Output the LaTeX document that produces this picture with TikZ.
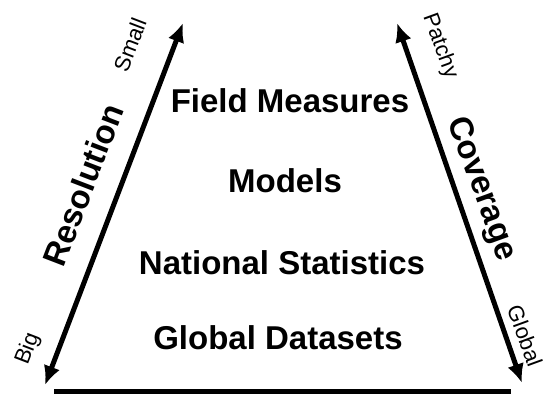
\documentclass[tikz,border=0pt]{standalone}
\usepackage{fontspec}
\setmainfont{Liberation Sans}
\usetikzlibrary{arrows.meta}

\tikzset{
    level/.style={font=\bfseries\fontsize{33}{40}\selectfont, inner sep=0pt},
    axis/.style={font=\bfseries\fontsize{33}{40}\selectfont, inner sep=0pt},
    ends/.style={font=\fontsize{22}{26}\selectfont, inner sep=0pt},
    arr/.style={line width=5pt, {Latex[length=19pt,width=17pt]}-{Latex[length=19pt,width=17pt]}}
}

\begin{document}
\begin{tikzpicture}[x=1pt, y=-1pt]
    \useasboundingbox (0, 0) rectangle (543, 394);

    \coordinate (lt) at (183, 23);
    \coordinate (lb) at (45, 385);
    \coordinate (rt) at (397, 23);
    \coordinate (rb) at (522, 383);
    \coordinate (bl) at (54, 391);
    \coordinate (br) at (511, 391);

    \node[level, anchor=base] (field) at (290, 112) {Field Measures};
    \node[level, anchor=base] (models) at (285, 192) {Models};
    \node[level, anchor=base] (national) at (282, 274) {National Statistics};
    \node[level, anchor=base] (global) at (278, 349) {Global Datasets};

    \node[axis, rotate=69] (res) at (83, 185) {Resolution};
    \node[axis, rotate=-70] (cov) at (481, 189) {Coverage};

    \node[ends, rotate=69] (small) at (130, 45) {Small};
    \node[ends, rotate=69] (big) at (28, 349) {Big};
    \node[ends, rotate=-70] (patchy) at (440, 46) {Patchy};
    \node[ends, rotate=-70] (glob) at (525, 336) {Global};

    \draw[arr] (lt) -- (lb);
    \draw[arr] (rt) -- (rb);
    \draw[line width=5pt] (bl) -- (br);
\end{tikzpicture}
\end{document}
